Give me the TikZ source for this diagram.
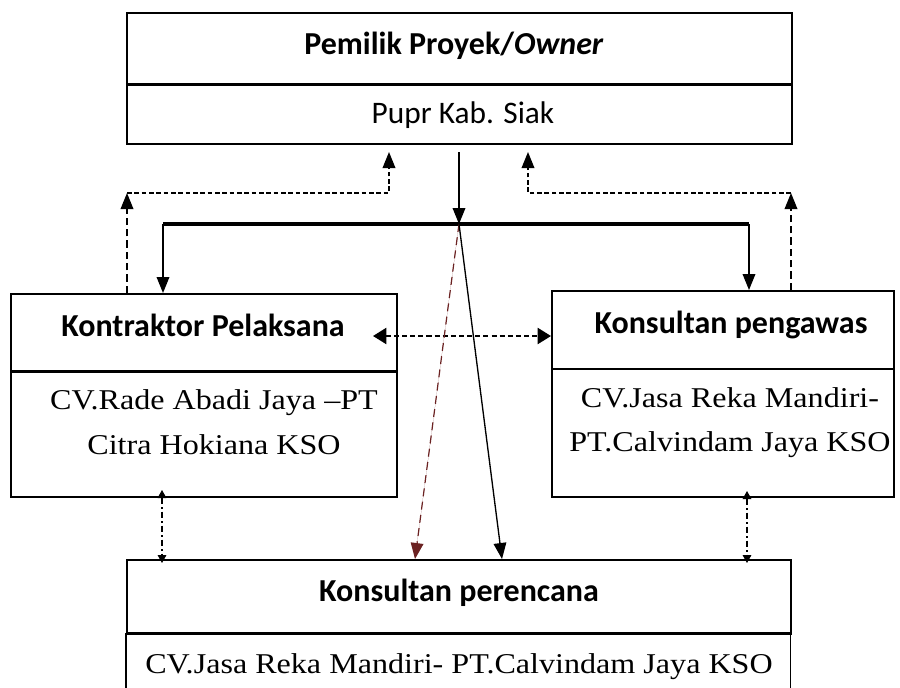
\documentclass[tikz,border=0pt]{standalone}
\usepackage{fontspec}
\setmainfont{Liberation Serif}
\newfontfamily\bodyfont[FakeStretch=1.12,Ligatures=TeX]{Liberation Serif}
\newfontfamily\calfont{Carlito}
\usetikzlibrary{arrows.meta}
\def\u{0.75pt}
\tikzset{
  bigtip/.tip={Triangle[length=12pt,width=9.5pt]},
  dbltip/.tip={Triangle[length=10pt,width=12pt]},
  smtip/.tip={Triangle[length=6pt,width=6.5pt]},
}
\begin{document}
\begin{tikzpicture}[x=0.75pt,y=-0.75pt,
  box/.style={draw, line width=1.4pt, anchor=north west, inner sep=0pt},
  openbox/.style={anchor=north west, inner sep=0pt},
  divider/.style={line width=2pt},
  ttl/.style={inner sep=0pt, anchor=base, font=\calfont\bfseries\fontsize{24}{28}\selectfont},
  sans/.style={inner sep=0pt, anchor=base, font=\calfont\fontsize{23.5}{28}\selectfont},
  body/.style={inner sep=0pt, anchor=base, font=\bodyfont\fontsize{21.5}{26}\selectfont},
  upline/.style={line width=1pt, dash pattern=on 5.5pt off 3pt},
  hdash/.style={line width=1pt, dash pattern=on 3.5pt off 2pt},
  bidir/.style={line width=1.6pt, dash pattern=on 3.8pt off 2.3pt},
  reddash/.style={draw=maroon, fill=maroon, line width=0.9pt, dash pattern=on 6pt off 4pt},
  dashdot/.style={line width=0.8pt, dash pattern=on 5pt off 2.2pt on 1.1pt off 2.2pt},
  solid1/.style={line width=1pt},
]
\definecolor{maroon}{HTML}{6B2222}
\useasboundingbox (0,0) rectangle (900,687);

% Owner
\node[box, minimum width=665*\u, minimum height=72*\u] (ownerT) at (126,12) {};
\node[box, minimum width=665*\u, minimum height=59*\u] (ownerB) at (126,84) {};
\draw[divider] (ownerB.north west) -- (ownerB.north east);
\node[ttl] (ownerTt) at (454,54) {Pemilik Proyek/\textit{Owner}};
\node[sans] (ownerBt) at (463,123) {Pupr Kab. Siak};

% Kontraktor
\node[box, minimum width=386*\u, minimum height=78*\u] (kontT) at (10,293) {};
\node[box, minimum width=386*\u, minimum height=125*\u] (kontB) at (10,371) {};
\draw[divider] (kontB.north west) -- (kontB.north east);
\node[ttl] (kontTt) at (203,336) {Kontraktor Pelaksana};
\node[body] (kontB1) at (214,409) {CV.Rade Abadi Jaya –PT};
\node[body] (kontB2) at (214,454) {Citra Hokiana KSO};

% Pengawas
\node[box, minimum width=342*\u, minimum height=78*\u] (pengT) at (551,290) {};
\node[box, minimum width=342*\u, minimum height=128*\u] (pengB) at (551,368) {};
\node[ttl] (pengTt) at (731,333) {Konsultan pengawas};
\node[body] (pengB1) at (730,407) {CV.Jasa Reka Mandiri-};
\node[body] (pengB2) at (730,451) {PT.Calvindam Jaya KSO};

% Perencana
\node[box, minimum width=664*\u, minimum height=74*\u] (perT) at (126,559) {};
\node[openbox, minimum width=664*\u, minimum height=128*\u] (perB) at (126,633) {};
\draw[line width=1.4pt] (perB.south west) -- (perB.north west) (perB.north east) -- (perB.south east);
\draw[divider] (perB.north west) -- (perB.north east);
\node[ttl] (perTt) at (459,601) {Konsultan perencana};
\node[body] (perBt) at (459,673) {CV.Jasa Reka Mandiri- PT.Calvindam Jaya KSO};

% coordinates
\coordinate (lc) at (127,193);
\coordinate (lu) at (389,193);
\coordinate (lt) at (389,152);
\coordinate (rc) at (791,193);
\coordinate (ru) at (528,193);
\coordinate (rt) at (528,152);
\coordinate (ds) at (459,152);
\coordinate (hub) at (459,224);
\coordinate (hl) at (163,224);
\coordinate (hr) at (749,224);
\coordinate (bl) at (373,336);
\coordinate (rend) at (415,559);
\coordinate (send) at (502,559);
\coordinate (dlt) at (162,490);
\coordinate (dlb) at (162,563);
\coordinate (drt) at (747,491);
\coordinate (drb) at (747,563);

% dashed reports up to owner
\draw[upline, -{bigtip}] (lc |- kontT.north) -- (lc);
\draw[hdash, -{bigtip}] (lc) -- (lu) -- (lt);
\draw[upline, -{bigtip}] (rc |- pengT.north) -- (rc);
\draw[hdash, -{bigtip}] (rc) -- (ru) -- (rt);

% command line
\draw[solid1, -{bigtip}] (ds) -- (hub);
\draw[line width=2.4pt] (hl) -- (hr);
\draw[solid1, -{bigtip}] (hl) -- (hl |- kontT.north);
\draw[solid1, -{bigtip}] (hr) -- (hr |- pengT.north);

% coordination
\draw[bidir, {dbltip}-{dbltip}] (bl) -- (bl -| pengT.west);
\draw[reddash, -{bigtip}] (hub) -- (rend);
\draw[solid1, -{bigtip}] (hub) -- (send);
\draw[dashdot, {smtip}-{smtip}] (dlt) -- (dlb);
\draw[dashdot, {smtip}-{smtip}] (drt) -- (drb);
\end{tikzpicture}
\end{document}
